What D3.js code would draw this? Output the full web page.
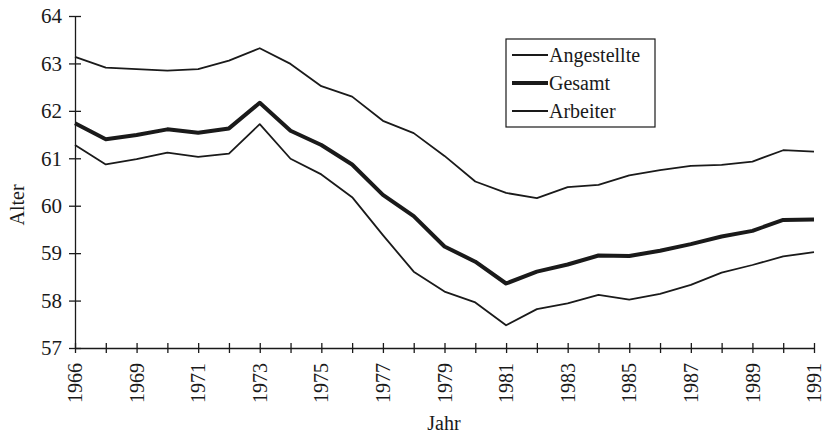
<!DOCTYPE html>
<meta charset="utf-8">
<head>
  <style>
    body { margin: 0; background: #fff; }
    svg { display: block; }
    text { font-family: 'Liberation Serif', 'Times New Roman', serif; fill: #1a1a1a; }
  </style>
</head>
<body>
<svg id="chart" width="823" height="435"></svg>
<script src="https://d3js.org/d3.v7.min.js"></script>
<script>

  // years on the axis (one year between 1966 and 1969 is missing in the source)
  var years = ["1966","1968","1969","1970","1971","1972","1973","1974","1975","1976","1977","1978",
               "1979","1980","1981","1982","1983","1984","1985","1986","1987","1988","1989","1990","1991"];
  var yearLabels = ["1966","1969","1971","1973","1975","1977","1979","1981","1983","1985","1987","1989","1991"];

  var angestellte = [63.14, 62.91, 62.88, 62.85, 62.88, 63.06, 63.32, 62.99, 62.52, 62.30, 61.79, 61.53,
                     61.05, 60.51, 60.27, 60.16, 60.39, 60.44, 60.64, 60.75, 60.84, 60.86, 60.93, 61.17, 61.14];
  var gesamt      = [61.74, 61.40, 61.49, 61.61, 61.54, 61.63, 62.17, 61.58, 61.28, 60.87, 60.23, 59.78,
                     59.14, 58.82, 58.36, 58.61, 58.76, 58.95, 58.94, 59.05, 59.19, 59.35, 59.47, 59.70, 59.71];
  var arbeiter    = [61.28, 60.87, 60.98, 61.12, 61.03, 61.10, 61.72, 60.99, 60.66, 60.18, 59.38, 58.61,
                     58.19, 57.96, 57.48, 57.82, 57.94, 58.12, 58.02, 58.14, 58.33, 58.59, 58.75, 58.93, 59.02];

  var seriesNames = ["Angestellte", "Gesamt", "Arbeiter"];
  var seriesData = [angestellte, gesamt, arbeiter];
  var widths = [1.8, 4, 1.8];

  var yTicks = [57, 58, 59, 60, 61, 62, 63, 64];

  // plot box (not "top": that name is taken by window.top)
  var pLeft = 75, pRight = 814, pTop = 16, pBottom = 348;
  var ink = "#1a1a1a";

  var svg = d3.select("#chart");

  var x = d3.scalePoint().domain(years).range([pLeft, pRight]);
  var y = d3.scaleLinear().domain([57, 64]).range([pBottom, pTop]);

  // axes: ticks cross the axis line
  var yAxis = svg.append("g").attr("transform", "translate(" + pLeft + ",0)")
    .call(d3.axisLeft(y).tickValues(yTicks).tickSize(6).tickSizeOuter(0).tickFormat(d3.format("d")));
  yAxis.selectAll(".tick line").attr("x2", 6).attr("x1", -6);

  var xAxis = svg.append("g").attr("transform", "translate(0," + pBottom + ")")
    .call(d3.axisBottom(x).tickSize(5).tickSizeOuter(0)
      .tickFormat(function (d) { return yearLabels.indexOf(d) >= 0 ? d : ""; }));
  xAxis.selectAll(".tick line").attr("y1", -5).attr("y2", 5);

  svg.selectAll(".domain").attr("stroke", ink).attr("stroke-width", 1.3);
  svg.selectAll(".tick line").attr("stroke", ink).attr("stroke-width", 1.3);

  yAxis.selectAll(".tick text")
    .attr("font-size", 21).attr("font-family", "'Liberation Serif', serif").attr("fill", ink)
    .attr("x", -13);

  xAxis.selectAll(".tick text")
    .attr("font-size", 20).attr("font-family", "'Liberation Serif', serif").attr("fill", ink)
    .attr("transform", "rotate(-90)")
    .attr("text-anchor", "end")
    .attr("x", -15).attr("y", 0).attr("dy", "0.33em");

  // lines
  var line = d3.line()
    .x(function (d, i) { return x(years[i]); })
    .y(function (d) { return y(d); });

  seriesData.forEach(function (s, k) {
    svg.append("path")
      .datum(s)
      .attr("d", line)
      .attr("fill", "none")
      .attr("stroke", ink)
      .attr("stroke-width", widths[k])
      .attr("stroke-linejoin", "round");
  });

  // axis titles
  svg.append("text")
    .attr("transform", "translate(24,205) rotate(-90)")
    .attr("text-anchor", "middle")
    .attr("font-size", 20)
    .text("Alter");

  svg.append("text")
    .attr("x", 444).attr("y", 430)
    .attr("text-anchor", "middle")
    .attr("font-size", 20)
    .text("Jahr");

  // legend
  var lg = svg.append("g");
  lg.append("rect")
    .attr("x", 506).attr("y", 39).attr("width", 149).attr("height", 88)
    .attr("fill", "#fff").attr("stroke", ink).attr("stroke-width", 1.2);

  seriesNames.forEach(function (name, k) {
    var cy = 55 + k * 28;
    lg.append("line")
      .attr("x1", 512).attr("x2", 548).attr("y1", cy).attr("y2", cy)
      .attr("stroke", ink).attr("stroke-width", widths[k]);
    lg.append("text")
      .attr("x", 549).attr("y", cy).attr("dy", "0.33em")
      .attr("font-size", 20)
      .text(name);
  });

</script>
</body>
